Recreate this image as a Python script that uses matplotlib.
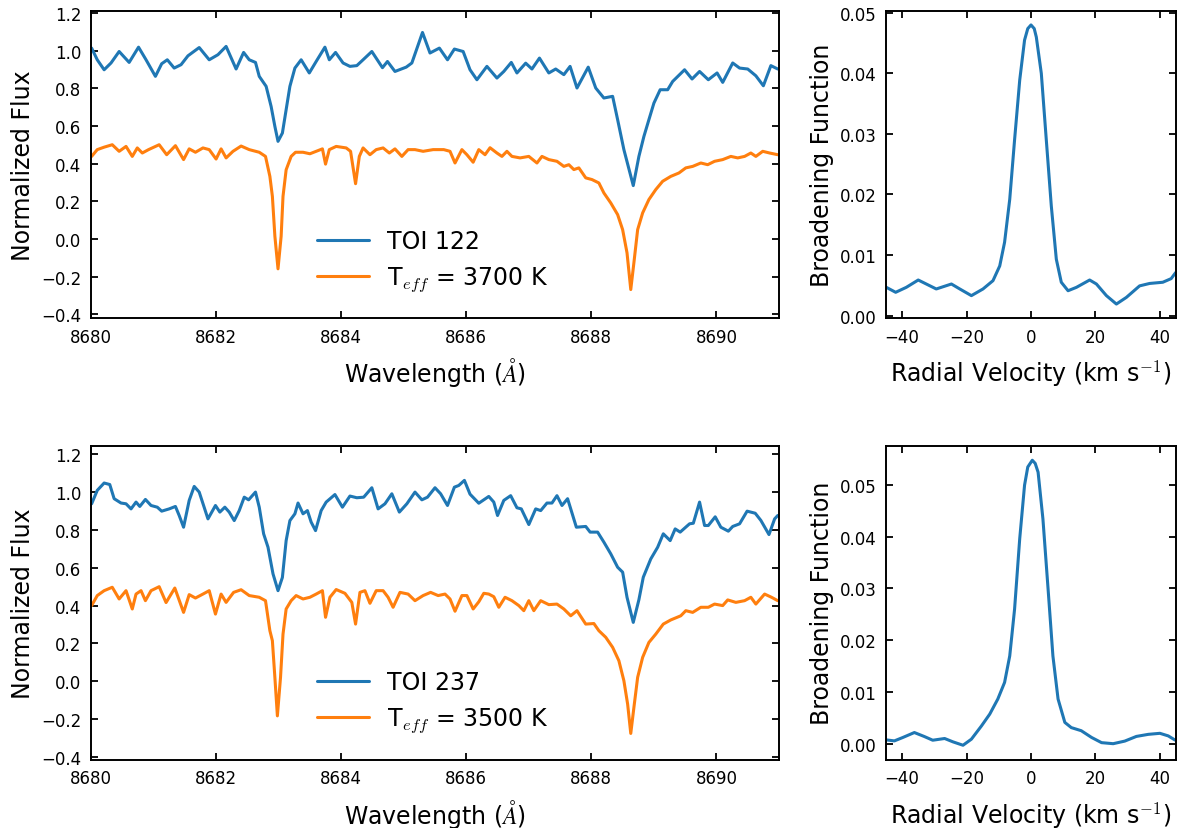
import numpy as np
import matplotlib.pyplot as plt
from matplotlib.ticker import MultipleLocator

plt.rcParams['mathtext.fontset'] = 'cm'

# ---- TOI 122 spectrum (offset from 8680 A) ----
wl_122 = [0.01, 0.10, 0.21, 0.32, 0.45, 0.61, 0.76, 0.88, 1.03, 1.13, 1.22, 1.33, 1.44, 1.55,
          1.73, 1.89, 2.03, 2.16, 2.32, 2.44, 2.53, 2.63, 2.69, 2.80, 2.88, 2.94, 2.99, 3.06,
          3.12, 3.18, 3.26, 3.36, 3.49, 3.60, 3.74, 3.81, 3.91, 4.03, 4.14, 4.25, 4.35, 4.49,
          4.66, 4.74, 4.86, 5.04, 5.13, 5.30, 5.42, 5.57, 5.70, 5.81, 5.95, 6.06, 6.17, 6.33,
          6.49, 6.60, 6.72, 6.81, 6.95, 7.05, 7.17, 7.32, 7.43, 7.56, 7.66, 7.77, 7.95, 8.07,
          8.20, 8.34, 8.42, 8.52, 8.67, 8.76, 8.84, 8.92, 9.00, 9.10, 9.22, 9.30, 9.49, 9.61,
          9.73, 9.87, 10.01, 10.10, 10.26, 10.37, 10.50, 10.63, 10.75, 10.87, 10.98]
flux_122 = [1.013, 0.951, 0.898, 0.934, 0.995, 0.937, 1.018, 0.951, 0.863, 0.930, 0.951, 0.907,
            0.925, 0.972, 1.016, 0.951, 0.978, 1.022, 0.902, 0.990, 0.951, 0.937, 0.863, 0.810,
            0.703, 0.597, 0.518, 0.562, 0.686, 0.810, 0.907, 0.951, 0.881, 0.942, 1.018, 0.951,
            0.990, 0.934, 0.916, 0.920, 0.951, 0.995, 0.909, 0.942, 0.889, 0.912, 0.934, 1.096,
            0.987, 1.013, 0.951, 1.008, 0.995, 0.898, 0.845, 0.916, 0.854, 0.889, 0.937, 0.881,
            0.933, 0.902, 0.960, 0.881, 0.902, 0.872, 0.916, 0.801, 0.912, 0.801, 0.748, 0.757,
            0.633, 0.474, 0.283, 0.438, 0.544, 0.633, 0.721, 0.792, 0.792, 0.836, 0.898, 0.849,
            0.889, 0.845, 0.881, 0.831, 0.934, 0.907, 0.902, 0.866, 0.813, 0.920, 0.902]

# ---- 3700 K template ----
wl_3700 = [0.01, 0.10, 0.21, 0.34, 0.45, 0.56, 0.66, 0.74, 0.82, 0.92, 1.09, 1.21, 1.35, 1.48,
           1.57, 1.67, 1.79, 1.89, 2.00, 2.08, 2.16, 2.27, 2.40, 2.53, 2.69, 2.79, 2.86, 2.90,
           2.94, 2.99, 3.04, 3.07, 3.12, 3.20, 3.27, 3.39, 3.50, 3.60, 3.70, 3.75, 3.81, 3.92,
           4.08, 4.15, 4.23, 4.29, 4.35, 4.46, 4.56, 4.67, 4.77, 4.86, 4.97, 5.07, 5.18, 5.31,
           5.47, 5.64, 5.74, 5.82, 5.93, 6.01, 6.11, 6.20, 6.30, 6.38, 6.49, 6.57, 6.65, 6.73,
           6.86, 7.00, 7.13, 7.21, 7.32, 7.45, 7.56, 7.64, 7.72, 7.80, 7.91, 8.01, 8.12, 8.20,
           8.31, 8.42, 8.50, 8.57, 8.63, 8.68, 8.74, 8.82, 8.92, 9.03, 9.14, 9.27, 9.40, 9.51,
           9.62, 9.75, 9.86, 9.97, 10.10, 10.23, 10.34, 10.45, 10.55, 10.63, 10.74, 10.85, 10.98]
flux_3700 = [0.438, 0.474, 0.487, 0.500, 0.465, 0.491, 0.438, 0.483, 0.456, 0.474, 0.500, 0.447,
             0.495, 0.421, 0.478, 0.460, 0.483, 0.474, 0.424, 0.478, 0.430, 0.465, 0.493, 0.474,
             0.460, 0.438, 0.332, 0.226, 0.014, -0.159, 0.014, 0.226, 0.367, 0.438, 0.460, 0.460,
             0.452, 0.465, 0.478, 0.397, 0.474, 0.491, 0.483, 0.465, 0.293, 0.438, 0.483, 0.447,
             0.474, 0.483, 0.456, 0.478, 0.438, 0.474, 0.474, 0.465, 0.474, 0.474, 0.465, 0.403,
             0.474, 0.447, 0.407, 0.474, 0.447, 0.484, 0.456, 0.438, 0.465, 0.438, 0.430, 0.438,
             0.403, 0.438, 0.421, 0.412, 0.385, 0.394, 0.368, 0.377, 0.324, 0.315, 0.297, 0.244,
             0.191, 0.129, 0.049, -0.074, -0.269, -0.127, 0.049, 0.138, 0.209, 0.262, 0.306,
             0.332, 0.350, 0.377, 0.385, 0.403, 0.394, 0.412, 0.421, 0.438, 0.430, 0.438, 0.456,
             0.438, 0.465, 0.456, 0.447]

# ---- TOI 237 spectrum ----
wl_237 = [0.01, 0.10, 0.21, 0.30, 0.37, 0.48, 0.56, 0.64, 0.72, 0.78, 0.87, 0.96, 1.06, 1.13,
          1.25, 1.35, 1.41, 1.48, 1.57, 1.65, 1.73, 1.87, 1.99, 2.06, 2.14, 2.21, 2.29, 2.37,
          2.45, 2.52, 2.63, 2.69, 2.76, 2.83, 2.91, 2.99, 3.06, 3.12, 3.18, 3.26, 3.31, 3.39,
          3.46, 3.52, 3.59, 3.68, 3.76, 3.90, 4.02, 4.14, 4.25, 4.36, 4.49, 4.59, 4.70, 4.81,
          4.93, 5.05, 5.18, 5.29, 5.38, 5.50, 5.59, 5.70, 5.81, 5.88, 5.97, 6.06, 6.20, 6.36,
          6.44, 6.50, 6.60, 6.71, 6.81, 6.88, 7.00, 7.11, 7.19, 7.29, 7.37, 7.45, 7.53, 7.62,
          7.76, 7.91, 7.98, 8.10, 8.20, 8.31, 8.42, 8.50, 8.57, 8.67, 8.76, 8.83, 8.95, 9.06,
          9.15, 9.26, 9.34, 9.42, 9.57, 9.63, 9.73, 9.81, 9.87, 9.98, 10.07, 10.19, 10.26,
          10.37, 10.49, 10.62, 10.71, 10.84, 10.93, 10.98]
flux_237 = [0.939, 1.010, 1.049, 1.041, 0.966, 0.943, 0.939, 0.912, 0.948, 0.925, 0.962, 0.930,
            0.921, 0.900, 0.912, 0.925, 0.877, 0.815, 0.957, 1.031, 1.001, 0.859, 0.930, 0.895,
            0.921, 0.895, 0.850, 0.903, 0.974, 0.960, 1.001, 0.921, 0.780, 0.709, 0.568, 0.479,
            0.549, 0.744, 0.850, 0.886, 0.943, 0.886, 0.903, 0.842, 0.797, 0.903, 0.948, 0.988,
            0.921, 0.980, 0.971, 0.974, 1.024, 0.912, 0.939, 0.992, 0.895, 0.939, 1.001, 0.960,
            0.974, 1.024, 0.992, 0.930, 1.027, 1.036, 1.063, 0.990, 0.942, 0.978, 0.948, 0.877,
            0.957, 0.982, 0.918, 0.912, 0.829, 0.912, 0.903, 0.943, 0.943, 0.982, 0.930, 0.966,
            0.815, 0.819, 0.789, 0.789, 0.736, 0.674, 0.603, 0.577, 0.444, 0.311, 0.431, 0.550,
            0.647, 0.709, 0.780, 0.744, 0.806, 0.789, 0.833, 0.836, 0.948, 0.824, 0.824, 0.870,
            0.815, 0.794, 0.819, 0.833, 0.900, 0.889, 0.851, 0.776, 0.859, 0.877]

# ---- 3500 K template ----
wl_3500 = [0.01, 0.10, 0.21, 0.34, 0.45, 0.56, 0.66, 0.72, 0.80, 0.87, 0.96, 1.09, 1.20, 1.34,
           1.48, 1.57, 1.67, 1.79, 1.89, 1.99, 2.08, 2.16, 2.28, 2.40, 2.53, 2.69, 2.79, 2.86,
           2.90, 2.94, 2.98, 3.03, 3.07, 3.12, 3.20, 3.28, 3.39, 3.50, 3.60, 3.70, 3.75, 3.82,
           3.92, 4.06, 4.17, 4.23, 4.30, 4.38, 4.46, 4.56, 4.67, 4.75, 4.83, 4.94, 5.07, 5.18,
           5.31, 5.43, 5.55, 5.66, 5.74, 5.82, 5.93, 6.01, 6.11, 6.20, 6.28, 6.36, 6.44, 6.52,
           6.62, 6.73, 6.84, 6.92, 7.00, 7.08, 7.19, 7.32, 7.45, 7.56, 7.67, 7.77, 7.91, 8.04,
           8.12, 8.23, 8.34, 8.44, 8.52, 8.58, 8.63, 8.68, 8.74, 8.82, 8.92, 9.03, 9.15, 9.27,
           9.43, 9.51, 9.62, 9.75, 9.87, 9.97, 10.10, 10.18, 10.31, 10.45, 10.55, 10.63, 10.77,
           10.88, 10.98]
flux_3500 = [0.400, 0.453, 0.479, 0.497, 0.435, 0.479, 0.382, 0.461, 0.479, 0.426, 0.479, 0.500,
             0.416, 0.493, 0.364, 0.458, 0.440, 0.461, 0.479, 0.355, 0.461, 0.417, 0.470, 0.484,
             0.453, 0.444, 0.426, 0.267, 0.214, 0.019, -0.184, 0.019, 0.249, 0.382, 0.426, 0.453,
             0.435, 0.444, 0.461, 0.479, 0.338, 0.444, 0.485, 0.465, 0.417, 0.302, 0.470, 0.479,
             0.412, 0.479, 0.479, 0.444, 0.391, 0.470, 0.461, 0.426, 0.453, 0.470, 0.453, 0.461,
             0.435, 0.370, 0.453, 0.453, 0.382, 0.420, 0.465, 0.461, 0.447, 0.391, 0.444, 0.426,
             0.400, 0.373, 0.426, 0.373, 0.426, 0.405, 0.408, 0.382, 0.346, 0.373, 0.302, 0.305,
             0.267, 0.232, 0.179, 0.108, 0.002, -0.122, -0.277, -0.140, 0.020, 0.126, 0.205,
             0.249, 0.302, 0.324, 0.346, 0.373, 0.364, 0.391, 0.391, 0.408, 0.400, 0.430, 0.417,
             0.426, 0.444, 0.408, 0.461, 0.444, 0.426]

# ---- broadening functions ----
rv_122 = [-44.9, -42.0, -38.7, -35.0, -32.5, -29.4, -24.7, -22.1, -18.5, -14.9, -11.8, -9.7,
          -8.2, -6.6, -5.1, -3.5, -2.0, -1.0, 0.0, 1.0, 1.65, 3.2, 4.75, 6.3, 7.86, 9.4, 11.5,
          14.1, 18.2, 20.3, 23.4, 26.5, 29.6, 33.7, 36.8, 40.9, 43.5, 44.9]
bf_122 = [0.00466, 0.00384, 0.00466, 0.00587, 0.00521, 0.00439, 0.00521, 0.00439, 0.00329,
          0.00439, 0.00576, 0.0082, 0.0121, 0.0192, 0.029, 0.0389, 0.0455, 0.0474, 0.048,
          0.0474, 0.046, 0.040, 0.029, 0.0181, 0.0093, 0.0055, 0.0041, 0.00466, 0.00587,
          0.00521, 0.00329, 0.0019, 0.0030, 0.0049, 0.0053, 0.0055, 0.0061, 0.0071]

rv_237 = [-45.0, -42.4, -39.8, -36.2, -33.1, -30.5, -26.8, -24.2, -21.1, -18.5, -15.4, -12.8,
          -10.3, -8.2, -6.6, -5.1, -3.5, -2.0, -1.0, 0.4, 1.3, 2.2, 3.7, 5.3, 6.8, 8.4, 10.5,
          12.5, 15.6, 18.8, 21.9, 25.5, 29.1, 32.7, 36.4, 40.0, 42.6, 44.7]
bf_237 = [0.00084, 0.00064, 0.00129, 0.00225, 0.00148, 0.00077, 0.0011, 0.00045, -0.0002,
          0.00097, 0.0035, 0.0058, 0.0087, 0.0119, 0.017, 0.026, 0.0396, 0.0499, 0.0534, 0.0547,
          0.0541, 0.0524, 0.0434, 0.0299, 0.017, 0.0087, 0.0042, 0.0032, 0.0026, 0.0013, 0.0003,
          0.0001, 0.0006, 0.0015, 0.0019, 0.0021, 0.0016, 0.0008]

labels = ["TOI 122", "TOI 237"]
teffs = [3700, 3500]
ylims = [(-0.42, 1.21), (-0.415, 1.245)]

W, H = 1180, 829
fig = plt.figure(figsize=(W / 100, H / 100), dpi=100)
line_kw = dict(lw=2.2, solid_joinstyle='round', solid_capstyle='round')


def style(ax):
    ax.tick_params(which='both', direction='in', top=True, right=True,
                   length=5, width=1.3, labelsize=12, pad=7)
    for s in ax.spines.values():
        s.set_linewidth(1.4)


rows = [(12, 319), (447, 760.5)]
spectra = [(wl_122, flux_122, wl_3700, flux_3700, rv_122, bf_122),
           (wl_237, flux_237, wl_3500, flux_3500, rv_237, bf_237)]

for i, (top, bot) in enumerate(rows):
    wl_o, fl_o, wl_t, fl_t, rv, bf = spectra[i]
    ax = fig.add_axes([91 / W, 1 - bot / H, 688 / W, (bot - top) / H])
    ax.plot(8680 + np.array(wl_o), fl_o, color='#1f77b4', label=labels[i], **line_kw)
    ax.plot(8680 + np.array(wl_t), fl_t, color='#ff7f0e',
            label=r'T$_{eff}$ = %d K' % teffs[i], **line_kw)
    ax.set_xlim(8680, 8691)
    ax.set_ylim(*ylims[i])
    ax.xaxis.set_major_locator(MultipleLocator(2))
    ax.yaxis.set_major_locator(MultipleLocator(0.2))
    ax.set_xlabel(r'Wavelength ($\AA$)', fontsize=17, labelpad=7)
    ax.set_ylabel('Normalized Flux', fontsize=17)
    style(ax)
    ax.legend(loc='lower left', bbox_to_anchor=(0.328, 0.08), frameon=False, fontsize=17,
              borderaxespad=0, borderpad=0, handlelength=2.2, handletextpad=0.8)

    ax2 = fig.add_axes([886 / W, 1 - bot / H, 290 / W, (bot - top) / H])
    ax2.plot(rv, bf, color='#1f77b4', **line_kw)
    ax2.set_xlim(-45, 45)
    ax2.xaxis.set_major_locator(MultipleLocator(20))
    ax2.yaxis.set_major_locator(MultipleLocator(0.01))
    ax2.set_xlabel(r'Radial Velocity (km s$^{-1}$)', fontsize=17, labelpad=9)
    ax2.set_ylabel('Broadening Function', fontsize=17)
    style(ax2)

fig.savefig('out.png', dpi=100)
